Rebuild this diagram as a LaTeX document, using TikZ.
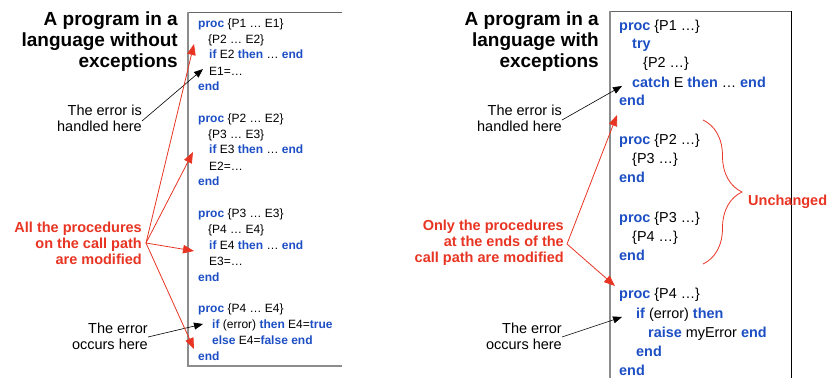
\documentclass[tikz,border=0pt]{standalone}
\usepackage{fontspec}
\setmainfont{Liberation Sans}
\usepackage{xcolor}
\usetikzlibrary{arrows.meta,positioning,decorations.pathreplacing}

\definecolor{kwblue}{RGB}{28,78,196}
\definecolor{notered}{RGB}{232,52,35}
\newcommand{\kw}[1]{\textcolor{kwblue}{\bfseries #1}}

\tikzset{
    code/.style={anchor=base west, inner sep=0pt, font=\fontsize{12}{14}\selectfont},
    rcode/.style={anchor=base west, inner sep=0pt, font=\fontsize{14.4}{17}\selectfont},
    title/.style={anchor=east, inner sep=0pt, align=right, font=\fontsize{19}{21}\selectfont\bfseries},
    note/.style={anchor=east, inner sep=0pt, align=right, font=\fontsize{14.5}{16.2}\selectfont},
    rednote/.style={note, text=notered, font=\fontsize{14.5}{16}\selectfont\bfseries},
    blackarrow/.style={-{Triangle[length=9pt,width=7pt]}, black, line width=0.6pt},
    redarrow/.style={-{Triangle[length=11pt,width=8.5pt]}, notered, line width=0.8pt}
}

\begin{document}
\begin{tikzpicture}[x=1pt, y=-1pt]
    \useasboundingbox (0,0) rectangle (827,378);

    % Boxes
    \draw[black!60, line width=0.8pt] (342,12) -- (188,12);
    \draw[black!45, line width=1.2pt] (188,12) -- (188,366) -- (342,366);
    \draw[black!60, line width=0.8pt] (610,11) -- (791,11);
    \draw[black!45, line width=1.6pt] (610,11) -- (610,378);
    \draw[black, line width=0.8pt] (791,11) -- (791,378);

    % Titles
    \node[title] (ltitle) at (178,42) {A program in a\\language without\\exceptions};
    \node[title] (rtitle) at (599,42) {A program in a\\language with\\exceptions};

    % Program without exceptions
    \node[code] (lp1) at (198,27) {\kw{proc} \{P1 … E1\}};
    \node[code] (lc1) at (208,43) {\{P2 … E2\}};
    \node[code] (li1) at (209,58) {\kw{if} E2 \kw{then} … \kw{end}};
    \node[code] (le1) at (209,75) {E1=…};
    \node[code] (ld1) at (198,90) {\kw{end}};

    \node[code] (lp2) at (198,122) {\kw{proc} \{P2 … E2\}};
    \node[code] (lc2) at (208,138) {\{P3 … E3\}};
    \node[code] (li2) at (209,153) {\kw{if} E3 \kw{then} … \kw{end}};
    \node[code] (le2) at (209,170) {E2=…};
    \node[code] (ld2) at (198,185) {\kw{end}};

    \node[code] (lp3) at (198,217) {\kw{proc} \{P3 … E3\}};
    \node[code] (lc3) at (208,233) {\{P4 … E4\}};
    \node[code] (li3) at (209,249) {\kw{if} E4 \kw{then} … \kw{end}};
    \node[code] (le3) at (209,265) {E3=…};
    \node[code] (ld3) at (198,281) {\kw{end}};

    \node[code] (lp4) at (198,312) {\kw{proc} \{P4 … E4\}};
    \node[code] (li4) at (212,328) {\kw{if} (error) \kw{then} E4=\kw{true}};
    \node[code] (lx4) at (212,344) {\kw{else} E4=\kw{false} \kw{end}};
    \node[code] (ld4) at (198,360) {\kw{end}};

    % Program with exceptions
    \node[rcode] (rp1) at (619,30) {\kw{proc} \{P1 …\}};
    \node[rcode] (rt1) at (632,48) {\kw{try}};
    \node[rcode] (rc1) at (643,67) {\{P2 …\}};
    \node[rcode] (rk1) at (632,87) {\kw{catch} E \kw{then} … \kw{end}};
    \node[rcode] (rd1) at (619,105) {\kw{end}};

    \node[rcode] (rp2) at (619,144) {\kw{proc} \{P2 …\}};
    \node[rcode] (rc2) at (632,163) {\{P3 …\}};
    \node[rcode] (rd2) at (619,182) {\kw{end}};

    \node[rcode] (rp3) at (619,222) {\kw{proc} \{P3 …\}};
    \node[rcode] (rc3) at (632,241) {\{P4 …\}};
    \node[rcode] (rd3) at (619,260) {\kw{end}};

    \node[rcode] (rp4) at (619,298) {\kw{proc} \{P4 …\}};
    \node[rcode] (ri4) at (636,318) {\kw{if} (error) \kw{then}};
    \node[rcode] (rr4) at (648,337) {\kw{raise} myError \kw{end}};
    \node[rcode] (re4) at (636,356) {\kw{end}};
    \node[rcode] (rd4) at (619,375) {\kw{end}};

    % Notes
    \node[note] (lhandled) at (142,118) {The error is\\handled here};
    \node[rednote] (lall) at (142,243) {All the procedures\\on the call path\\are modified};
    \node[note] (loccurs) at (148,336) {The error\\occurs here};
    \node[note] (rhandled) at (562,118) {The error is\\handled here};
    \node[rednote] (ronly) at (564,243) {Only the procedures\\at the ends of the\\call path are modified};
    \node[note] (roccurs) at (562,336) {The error\\occurs here};

    % Arrows
    \coordinate (lfan) at (146,243);
    \coordinate (rfan) at (567,244);
    \draw[blackarrow] (lhandled.east |- 0,121) -- (203,69);
    \draw[blackarrow] (loccurs.east |- 0,337) -- (203,324);
    \draw[redarrow] (lfan) -- (194,44);
    \draw[redarrow] (lfan) -- (193,152);
    \draw[redarrow] (lfan) -- (194,251);
    \draw[redarrow] (lfan) -- (194,349);
    \draw[blackarrow] (rhandled.east |- 0,120) -- (622,86);
    \draw[blackarrow] (roccurs.east |- 0,337) -- (622,317);
    \draw[redarrow] (rfan) -- (617,115);
    \draw[redarrow] (rfan) -- (615,286);

    % Brace
    \draw[notered, line width=0.8pt, decorate, decoration={brace, amplitude=39pt}] (703,120) -- (703,264) coordinate[midway] (bmid);
    \node[anchor=west, inner sep=0pt, text=notered, font=\fontsize{14.5}{16}\selectfont\bfseries] (unchanged) at (748,202) {Unchanged};
\end{tikzpicture}
\end{document}
